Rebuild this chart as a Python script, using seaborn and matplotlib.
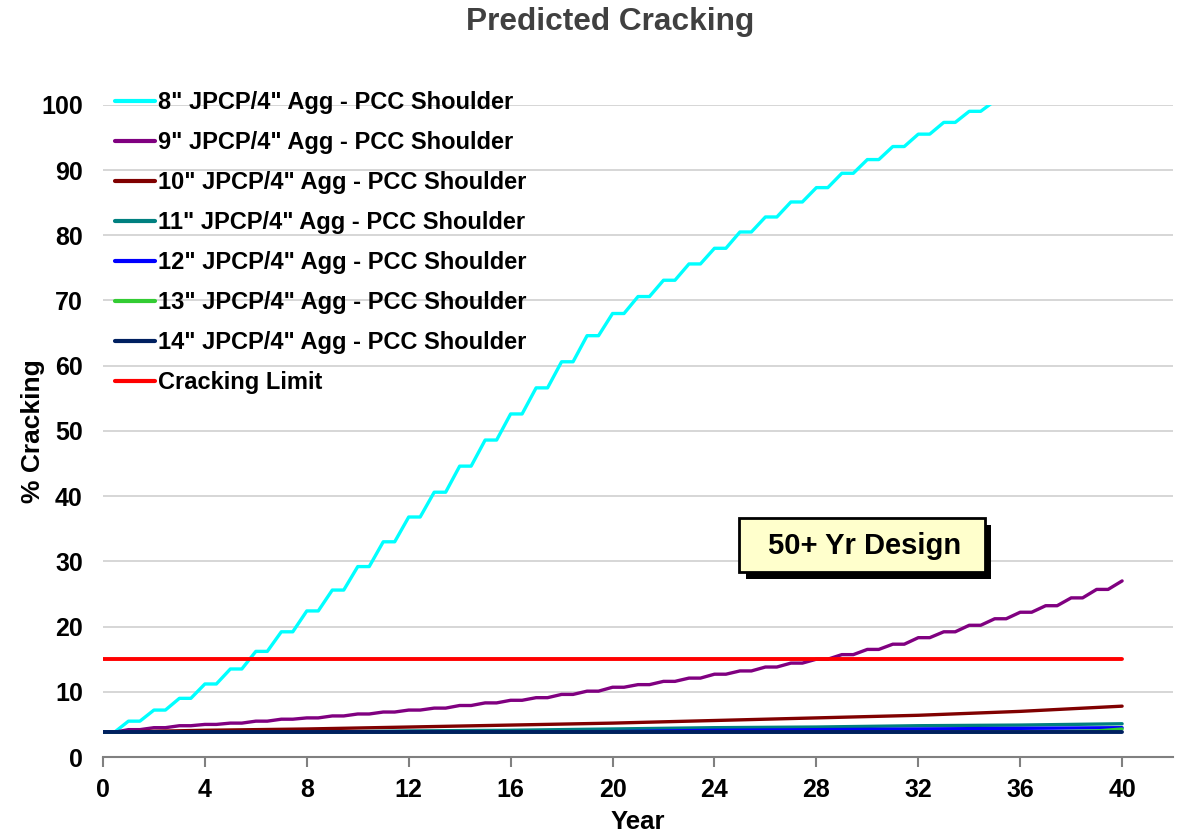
import numpy as np
import pandas as pd
import matplotlib
matplotlib.use('Agg')
import matplotlib.pyplot as plt
import seaborn as sns
from matplotlib.patches import Rectangle
import matplotlib.patheffects as pe

# yearly plateau levels (% cracking)
years = list(range(0, 41))
crack_8in = [3.8, 5.5, 7.2, 9.0, 11.2, 13.5, 16.2, 19.2, 22.4, 25.6, 29.2, 33.0,
             36.8, 40.6, 44.6, 48.6, 52.6, 56.6, 60.6, 64.6, 68.0, 70.6, 73.1,
             75.6, 78.0, 80.5, 82.8, 85.1, 87.3, 89.5, 91.6, 93.6, 95.5, 97.3,
             99.0, 100.6, 102.0, 103.0, 104.0, 105.0, 106.0]
crack_9in = [3.8, 4.2, 4.5, 4.8, 5.0, 5.2, 5.5, 5.8, 6.0, 6.3, 6.6, 6.9, 7.2,
             7.5, 7.9, 8.3, 8.7, 9.1, 9.6, 10.1, 10.7, 11.1, 11.6, 12.1, 12.7,
             13.2, 13.8, 14.4, 15.0, 15.7, 16.5, 17.3, 18.3, 19.2, 20.2, 21.2,
             22.2, 23.2, 24.4, 25.7, 27.0]

# thicker sections, read every few years
yrs_10in = [0, 4, 8, 12, 16, 20, 24, 28, 32, 36, 40]
crack_10in = [3.8, 4.1, 4.3, 4.6, 4.9, 5.2, 5.6, 6.0, 6.4, 7.0, 7.8]
yrs_11in = [0, 8, 12, 16, 20, 24, 28, 32, 36, 40]
crack_11in = [3.8, 3.8, 4.0, 4.1, 4.3, 4.5, 4.6, 4.8, 4.9, 5.1]
yrs_12in = [0, 20, 24, 28, 32, 36, 40]
crack_12in = [3.8, 3.9, 4.1, 4.2, 4.3, 4.4, 4.5]
yrs_13in = [0, 36, 39, 40]
crack_13in = [3.8, 3.8, 4.0, 4.3]
yrs_14in = [0, 40]
crack_14in = [3.8, 3.8]

limit_years = [0, 40]
limit_value = [15, 15]

labels = ['8" JPCP/4" Agg - PCC Shoulder', '9" JPCP/4" Agg - PCC Shoulder',
          '10" JPCP/4" Agg - PCC Shoulder', '11" JPCP/4" Agg - PCC Shoulder',
          '12" JPCP/4" Agg - PCC Shoulder', '13" JPCP/4" Agg - PCC Shoulder',
          '14" JPCP/4" Agg - PCC Shoulder', 'Cracking Limit']
colors = ['#00FFFF', '#800080', '#800000', '#008080', '#0000FF', '#33CC33',
          '#002060', '#FF0000']


# seasonal steps: plateau through the first half of each year, rise in the second
def stepped(yr, vals):
    xs, ys = [], []
    for y, v in zip(yr, vals):
        xs.append(y)
        ys.append(v)
        if y < yr[-1]:
            xs.append(y + 0.45)
            ys.append(v)
    return xs, ys


sns.set_style('white')
plt.rcParams['font.family'] = ['Liberation Sans', 'DejaVu Sans']
plt.rcParams['font.weight'] = 'bold'
plt.rcParams['text.color'] = 'black'
plt.rcParams['axes.labelcolor'] = 'black'
plt.rcParams['xtick.color'] = 'black'
plt.rcParams['ytick.color'] = 'black'

fig = plt.figure(figsize=(11.89, 8.33), dpi=100)
ax = fig.add_axes([0.0866, 0.0912, 0.9, 0.783])

series = [stepped(years, crack_8in), stepped(years, crack_9in),
          (yrs_10in, crack_10in), (yrs_11in, crack_11in),
          (yrs_12in, crack_12in), (yrs_13in, crack_13in),
          (yrs_14in, crack_14in), (limit_years, limit_value)]
widths = [2.4, 2.4, 2.4, 2.4, 2.4, 2.4, 2.8, 2.8]

for (xs, ys), lab, col, lw in zip(series, labels, colors, widths):
    sns.lineplot(x=xs, y=ys, ax=ax, color=col, linewidth=lw, label=lab,
                 estimator=None, sort=False)

ax.set_xlim(0, 42)
ax.set_ylim(0, 100)
ax.set_xticks(range(0, 41, 4))
ax.set_yticks(range(0, 101, 10))
ax.yaxis.grid(True, color='#D0D0D0', linewidth=1.2)
ax.set_axisbelow(True)
for s in ['left', 'right', 'top']:
    ax.spines[s].set_visible(False)
ax.spines['bottom'].set_color('#808080')
ax.spines['bottom'].set_linewidth(1.5)
ax.tick_params(axis='x', bottom=True, direction='out', length=7, width=1.5,
               color='#808080', labelcolor='black', labelsize=18, pad=8)
ax.tick_params(axis='y', left=False, labelsize=18, labelcolor='black', pad=11)
for t in ax.get_xticklabels() + ax.get_yticklabels():
    t.set_fontweight('bold')

ax.set_xlabel('Year', fontsize=18.5, fontweight='bold', labelpad=6)
ax.set_ylabel('% Cracking', fontsize=19, fontweight='bold', labelpad=-3)
fig.text(0.513, 0.973, 'Predicted Cracking', fontsize=22.8, fontweight='bold',
         color='#404040', ha='center', va='center')

leg = ax.legend(loc='upper left', bbox_to_anchor=(0.002, 1.035), frameon=False,
                prop={'size': 17, 'weight': 'bold'}, handlelength=1.7,
                handletextpad=0.15, labelspacing=0.72, borderaxespad=0.0)
for h in leg.get_lines():
    h.set_linewidth(3)

# "50+ Yr Design" callout box with a drop shadow
box = Rectangle((24.95, 28.4), 9.65, 8.25, facecolor='#FFFFCC',
                edgecolor='black', linewidth=2, zorder=9,
                path_effects=[pe.withSimplePatchShadow(offset=(5, -5),
                                                       shadow_rgbFace='black',
                                                       alpha=1)])
ax.add_patch(box)
ax.text(29.9, 32.4, '50+ Yr Design', fontsize=21, fontweight='bold',
        ha='center', va='center', zorder=10)

fig.savefig('out.png', dpi=100)
